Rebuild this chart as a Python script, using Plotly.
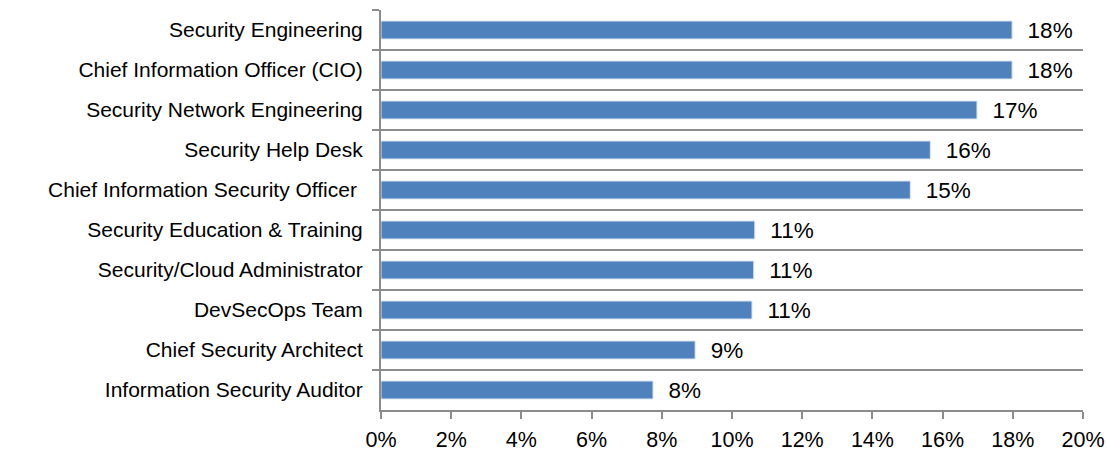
import plotly.graph_objects as go

categories = [
    "Security Engineering",
    "Chief Information Officer (CIO)",
    "Security Network Engineering",
    "Security Help Desk",
    "Chief Information Security Officer\u00a0",
    "Security Education & Training",
    "Security/Cloud Administrator",
    "DevSecOps Team",
    "Chief Security Architect",
    "Information Security Auditor",
]
values = [17.98, 17.98, 16.98, 15.65, 15.08, 10.65, 10.62, 10.57, 8.95, 7.75]
labels = ["18%", "18%", "17%", "16%", "15%", "11%", "11%", "11%", "9%", "8%"]
x_ticks = [0, 2, 4, 6, 8, 10, 12, 14, 16, 18, 20]
x_tick_text = [f"{t}%" for t in x_ticks]

fig = go.Figure(
    go.Bar(
        y=categories,
        x=values,
        orientation="h",
        text=["\u00a0\u00a0" + t for t in labels],
        textposition="outside",
        constraintext="none",
        cliponaxis=False,
        textfont=dict(family="Liberation Sans, Arial", size=22.5, color="#000000"),
        marker=dict(color="#4F81BD", line=dict(color="#DCE6F2", width=1)),
        width=0.45,
    )
)

fig.update_layout(
    width=1107,
    height=454,
    margin=dict(l=381, r=24, t=10, b=44),
    paper_bgcolor="white",
    plot_bgcolor="white",
    showlegend=False,
    font=dict(family="Liberation Sans, Arial", size=21, color="#000000"),
    xaxis=dict(
        range=[0, 20],
        tickvals=x_ticks,
        ticktext=x_tick_text,
        automargin=False,
        showgrid=False,
        zeroline=False,
        showline=True,
        linecolor="#8C8C8C",
        linewidth=2,
        ticks="outside",
        ticklen=7,
        tickcolor="#8C8C8C",
        tickwidth=2,
        ticklabelstandoff=2,
        tickfont=dict(size=21.5),
    ),
    yaxis=dict(
        autorange="reversed",
        type="category",
        automargin=False,
        tickson="boundaries",
        showgrid=True,
        gridcolor="#8C8C8C",
        gridwidth=2,
        showline=True,
        linecolor="#8C8C8C",
        linewidth=2,
        ticks="outside",
        ticklen=7,
        tickcolor="#8C8C8C",
        tickwidth=2,
        ticklabelstandoff=12,
        tickfont=dict(size=21),
    ),
)

fig.write_html("out.html")
